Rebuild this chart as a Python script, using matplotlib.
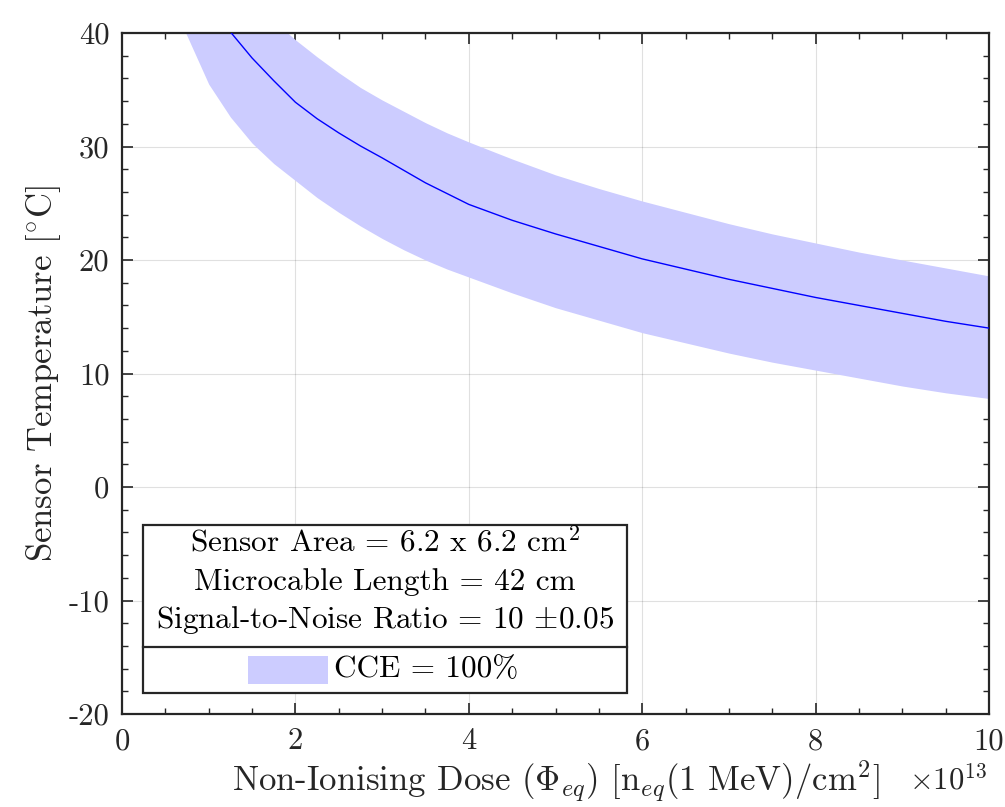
import matplotlib
matplotlib.use("Agg")
import matplotlib.pyplot as plt
from matplotlib.patches import Rectangle
from matplotlib.ticker import MultipleLocator

# MATLAB-ish look with Computer Modern text
plt.rcParams['font.family'] = 'serif'
plt.rcParams['font.serif'] = ['cmr10']
plt.rcParams['mathtext.fontset'] = 'cm'
plt.rcParams['axes.unicode_minus'] = False
plt.rcParams['axes.formatter.use_mathtext'] = False

# dose in units of 1e13 n_eq/cm^2
dose = [0.7, 0.8, 1.0, 1.25, 1.5, 1.75, 2.0, 2.25, 2.5, 2.75, 3.0, 3.25, 3.5, 3.75,
        4.0, 4.5, 5.0, 5.5, 6.0, 6.5, 7.0, 7.5, 8.0, 8.5, 9.0, 9.5, 10.0]
temp_mid = [47.3, 45.7, 42.9, 40.1, 37.8, 35.8, 33.9, 32.45, 31.2, 30.05, 29.0, 27.9,
            26.8, 25.85, 24.9, 23.5, 22.3, 21.2, 20.1, 19.2, 18.3, 17.5, 16.7, 16.0,
            15.3, 14.6, 14.0]
temp_hi = [52.9, 51.2, 48.3, 45.4, 43.1, 41.1, 39.4, 37.9, 36.5, 35.2, 34.1, 33.1,
           32.1, 31.2, 30.4, 28.9, 27.5, 26.3, 25.2, 24.2, 23.2, 22.3, 21.5, 20.7,
           20.0, 19.3, 18.6]
temp_lo = [40.6, 38.9, 35.5, 32.6, 30.3, 28.5, 27.0, 25.5, 24.2, 23.0, 21.9, 20.9,
           20.0, 19.2, 18.5, 17.1, 15.8, 14.7, 13.6, 12.7, 11.8, 11.0, 10.3, 9.6,
           8.9, 8.3, 7.8]

legend_lines = ['Sensor Area = 6.2 x 6.2 cm$^2$',
                'Microcable Length = 42 cm',
                r'Signal-to-Noise Ratio = 10 $\pm$0.05']
band_label = 'CCE = 100%'

fig = plt.figure(figsize=(10.05, 8.07), dpi=100)
ax = fig.add_axes([0.1214, 0.1152, 0.8627, 0.8439])

ax.fill_between(dose, temp_lo, temp_hi, color='#ccccff', linewidth=0, zorder=2)
ax.plot(dose, temp_mid, color='#0000ff', linewidth=1.0, zorder=3)

ax.set_xlim(0, 10)
ax.set_ylim(-20, 40)
ax.xaxis.set_major_locator(MultipleLocator(2))
ax.xaxis.set_minor_locator(MultipleLocator(0.5))
ax.yaxis.set_major_locator(MultipleLocator(10))
ax.yaxis.set_minor_locator(MultipleLocator(2))
ax.grid(True, which='major', color='#000000', alpha=0.12, linewidth=0.8, zorder=0)
ax.set_axisbelow(True)

ax.tick_params(which='both', direction='in', top=True, right=True,
               color='#262626', labelsize=22, labelcolor='#262626')
ax.tick_params(which='major', length=8, width=1.2)
ax.tick_params(axis='x', which='major', pad=10)
ax.tick_params(axis='y', which='major', pad=9)
ax.tick_params(which='minor', length=4.5, width=1.0)
for s in ax.spines.values():
    s.set_linewidth(1.6)
    s.set_color('#262626')

ax.set_xlabel(r'Non-Ionising Dose ($\Phi_{eq}$) [n$_{eq}$(1 MeV)/cm$^2$]',
              fontsize=25, color='#262626', labelpad=2)
ax.set_ylabel(r'Sensor Temperature [$^{\circ}$C]', fontsize=25, color='#262626',
              labelpad=4)
ax.text(0.998, -0.097, r'$\times10^{13}$', transform=ax.transAxes, fontsize=22,
        color='#262626', ha='right', va='center')

# legend box drawn by hand (MATLAB style with header lines)
box = Rectangle((0.0242, 0.0308), 0.5583, 0.2467, transform=ax.transAxes,
                facecolor='white', edgecolor='#262626', linewidth=1.6, zorder=5)
ax.add_patch(box)
ax.plot([0.0242, 0.5825], [0.0984, 0.0984], transform=ax.transAxes,
        color='#262626', linewidth=1.6, zorder=6)
for i, line in enumerate(legend_lines):
    ax.text(0.3033, 0.2511 - i * 0.0566, line, transform=ax.transAxes,
            fontsize=22.5, ha='center', va='center', color='#000000', zorder=7)
ax.add_patch(Rectangle((0.1453, 0.0441), 0.0923, 0.0411, transform=ax.transAxes,
                       facecolor='#ccccff', edgecolor='none', zorder=7))
ax.text(0.2445, 0.066, band_label, transform=ax.transAxes, fontsize=22.5,
        ha='left', va='center', color='#000000', zorder=7)

fig.savefig('out.png', dpi=100)
